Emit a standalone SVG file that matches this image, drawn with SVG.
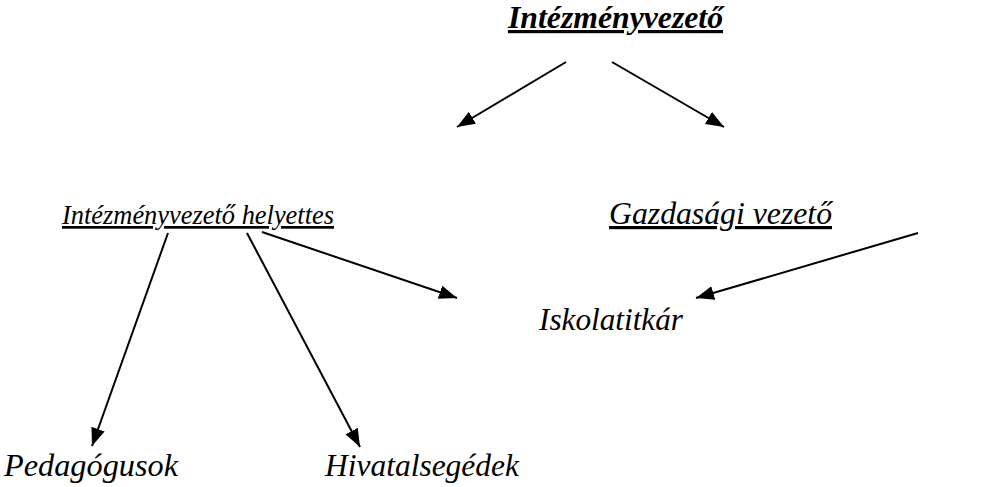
<svg xmlns="http://www.w3.org/2000/svg" width="1008" height="487" viewBox="0 0 1008 487">
<style>
.t{font-family:"Liberation Serif",serif;font-size:32px;font-style:italic}
.s{font-size:27px}
.u{text-decoration:underline}
.b{font-weight:bold}
.c line{stroke:#000;stroke-width:2;marker-end:url(#ah)}
</style>
<defs>
<marker id="ah" markerUnits="userSpaceOnUse" markerWidth="20" markerHeight="16" refX="18" refY="7" orient="auto">
<path d="M0,0 L18,7 L0,14 z" fill="#000"/>
</marker>
</defs>
<rect width="1008" height="487" fill="#fff"/>
<g id="n1"><text class="t u b" style="font-family:'Liberation Serif',serif" x="508" y="28" textLength="215" lengthAdjust="spacingAndGlyphs">Intézményvezető</text></g>
<g id="n2"><text class="t s u" style="font-family:'Liberation Serif',serif" x="62" y="224" textLength="272" lengthAdjust="spacingAndGlyphs">Intézményvezető helyettes</text></g>
<g id="n3"><text class="t u" style="font-family:'Liberation Serif',serif" x="609" y="224" textLength="223" lengthAdjust="spacingAndGlyphs">Gazdasági vezető</text></g>
<g id="n4"><text class="t" style="font-family:'Liberation Serif',serif" x="539" y="330" textLength="144" lengthAdjust="spacingAndGlyphs">Iskolatitkár</text></g>
<g id="n5"><text class="t" style="font-family:'Liberation Serif',serif" x="4" y="476" textLength="174" lengthAdjust="spacingAndGlyphs">Pedagógusok</text></g>
<g id="n6"><text class="t" style="font-family:'Liberation Serif',serif" x="325" y="476" textLength="194" lengthAdjust="spacingAndGlyphs">Hivatalsegédek</text></g>
<g id="connectors" class="c">
<line x1="566" y1="62" x2="457" y2="127"/>
<line x1="612" y1="62" x2="724" y2="127"/>
<line x1="168" y1="233" x2="92" y2="446"/>
<line x1="247" y1="233" x2="360" y2="447"/>
<line x1="262" y1="232" x2="457" y2="298"/>
<line x1="918" y1="233" x2="696" y2="298"/>
</g>
</svg>
